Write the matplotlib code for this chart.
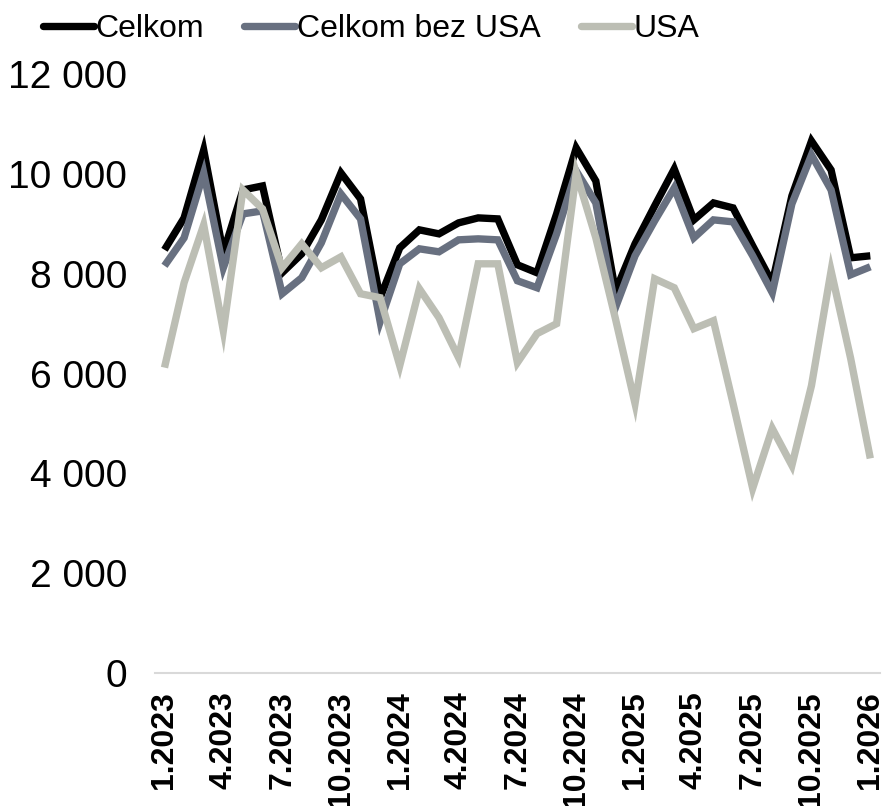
import matplotlib
matplotlib.use("Agg")
import matplotlib.pyplot as plt
import numpy as np

months = [f"{m}.{y}" for y in (2023, 2024, 2025) for m in range(1, 13)] + ["1.2026"]

celkom = [8480, 9120, 10480, 8420, 9680, 9760, 8020, 8400, 9080, 10020, 9500, 7520,
          8520, 8880, 8800, 9020, 9120, 9100, 8180, 8020, 9200, 10520, 9860, 7650,
          8600, 9360, 10100, 9080, 9420, 9320, 8560, 7820, 9560, 10660, 10080, 8320,
          8360]
bez_usa = [8160, 8720, 10020, 8120, 9200, 9260, 7600, 7920, 8620, 9600, 9100, 7040,
           8200, 8500, 8440, 8680, 8700, 8680, 7860, 7720, 8800, 10060, 9420, 7320,
           8360, 9060, 9720, 8720, 9080, 9040, 8360, 7620, 9400, 10380, 9680, 7980,
           8140]
usa = [6120, 7820, 8980, 6860, 9680, 9300, 8120, 8600, 8120, 8340, 7600, 7520,
       6160, 7700, 7120, 6320, 8200, 8200, 6220, 6800, 7000, 10020, 8720, 7100,
       5400, 7900, 7720, 6900, 7060, 5400, 3700, 4900, 4160, 5760, 8060, 6300,
       4300]

series_names = ["Celkom", "Celkom bez USA", "USA"]
colors = ["#000000", "#687080", "#BCBEB4"]
yticks = [0, 2000, 4000, 6000, 8000, 10000, 12000]

plt.rcParams['font.family'] = ['Liberation Sans', 'DejaVu Sans']

fig = plt.figure(figsize=(8.89, 8.06), dpi=100)
ax = fig.add_axes([0.174, 0.165, 0.816, 0.743])

x = np.arange(len(months))
for vals, name, c in zip([celkom, bez_usa, usa], series_names, colors):
    ax.plot(x, vals, color=c, lw=5.3, label=name, solid_joinstyle='miter', solid_capstyle='butt')

ax.set_xlim(-0.5, len(months) - 0.5)
ax.set_ylim(0, 12000)
ax.set_yticks(yticks)
ax.set_yticklabels([f"{v:,}".replace(",", " ") for v in yticks], fontsize=28)
tick_idx = list(range(0, len(months), 3))
ax.set_xticks(tick_idx)
ax.set_xticklabels([months[i] for i in tick_idx], rotation=90, fontsize=23, fontweight='bold')
ax.tick_params(axis='both', length=0)
ax.tick_params(axis='y', pad=20)
ax.tick_params(axis='x', pad=13)
for s in ['top', 'right', 'left']:
    ax.spines[s].set_visible(False)
ax.spines['bottom'].set_color('#D9D9D9')
ax.spines['bottom'].set_linewidth(1.5)

leg = fig.legend(loc='upper left', bbox_to_anchor=(0.016, 1.018), ncol=3, frameon=False,
                 fontsize=23, handlelength=1.6, handletextpad=0.05, columnspacing=1.25)
for h in leg.get_lines():
    h.set_linewidth(5.3)
    h.set_solid_capstyle('round')

fig.savefig("out.png", dpi=100)
